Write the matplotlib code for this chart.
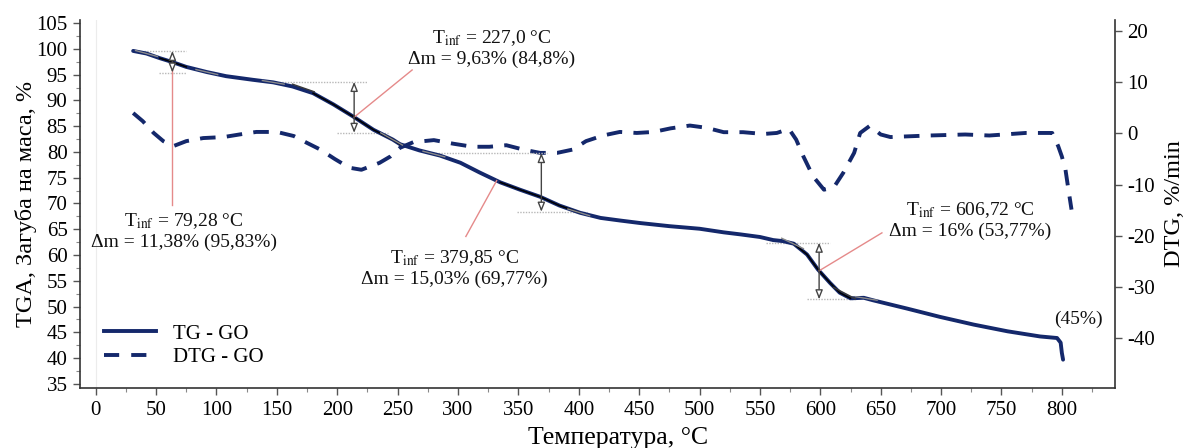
import numpy as np
import matplotlib
matplotlib.use("Agg")
import matplotlib.pyplot as plt
from matplotlib.ticker import MultipleLocator
from matplotlib.lines import Line2D

plt.rcParams['font.family'] = ['Liberation Serif', 'DejaVu Serif']
plt.rcParams['mathtext.fontset'] = 'stix'
plt.rcParams['axes.unicode_minus'] = False

# --- TG curve (mass, %) ---
tg_temp = [31, 42, 53, 64, 75, 92, 108, 130, 147, 163, 180, 197, 213, 230, 246,
           252, 268, 285, 302, 318, 335, 351, 368, 384, 401, 418, 434, 451, 475,
           500, 520, 534, 550, 561, 569, 578, 589, 598, 608, 616, 625, 636, 644,
           672, 699, 727, 755, 782, 796, 799, 800, 801]
tg_mass = [99.6, 99.1, 98.2, 97.4, 96.5, 95.5, 94.7, 94.0, 93.5, 92.7, 91.4, 89.2,
           86.9, 84.3, 82.4, 81.5, 80.3, 79.3, 77.9, 76.0, 74.1, 72.7, 71.3, 69.6,
           68.2, 67.2, 66.7, 66.2, 65.6, 65.1, 64.4, 64.0, 63.5, 62.9, 62.7, 62.2,
           60.1, 57.2, 54.6, 52.7, 51.6, 51.7, 51.2, 49.6, 48.0, 46.5, 45.2, 44.2,
           43.9, 43.0, 41.0, 39.7]

# --- DTG curve (%/min) ---
dtg_temp = [31, 39, 48, 56, 64, 75, 89, 106, 119, 133, 150, 164, 175, 186, 198,
            210, 220, 235, 244, 252, 263, 280, 296, 312, 326, 340, 354, 368, 382,
            395, 406, 420, 434, 448, 462, 476, 492, 506, 520, 536, 553, 564, 574,
            580, 586, 594, 603, 611, 619, 628, 633, 641, 650, 658, 690, 720, 740,
            770, 792, 797, 800, 803, 805, 808]
dtg_rate = [4.0, 2.4, 0.1, -1.5, -2.5, -1.5, -0.9, -0.7, -0.2, 0.3, 0.3, -0.5,
            -1.85, -3.15, -5.0, -6.7, -7.1, -5.75, -4.5, -2.8, -1.7, -1.3, -2.0,
            -2.6, -2.6, -2.3, -3.15, -3.8, -3.8, -3.15, -1.5, -0.4, 0.3, 0.1, 0.3,
            1.0, 1.55, 1.1, 0.25, 0.25, -0.1, 0.1, 0.9, -1.2, -4.5, -8.4, -11.0,
            -10.6, -7.7, -3.8, 0.1, 1.5, -0.2, -0.7, -0.4, -0.2, -0.4, 0.1, 0.1,
            -2.5, -4.5, -7.1, -10.3, -14.9]

# --- mass-loss steps ---
step_t_inf = [63.5, 214, 369, 599]
step_mass_top = [99.6, 93.6, 79.8, 62.4]
step_mass_bot = [95.4, 83.7, 68.4, 51.4]
step_top_span = [(40, 75), (152, 225), (274, 374), (555, 608)]
step_bot_span = [(52, 75), (200, 242), (349, 407), (589, 630)]
step_fit_span = [(45, 85), (168, 252), (330, 405), (578, 626)]
step_labels = [
    "T$_{\\mathrm{inf}}$ = 79,28 °C\nΔm = 11,38% (95,83%)",
    "T$_{\\mathrm{inf}}$ = 227,0 °C\nΔm = 9,63% (84,8%)",
    "T$_{\\mathrm{inf}}$ = 379,85 °C\nΔm = 15,03% (69,77%)",
    "T$_{\\mathrm{inf}}$ = 606,72 °C\nΔm = 16% (53,77%)",
]
label_xy = [(73, 64.7), (328, 100.2), (297, 57.4), (724, 66.7)]
leader_end = [(63.5, 69.8), (262, 95.9), (306.5, 63.6), (651, 64.3)]
leader_start_t = [63.5, 214, 332, 599]
tangent_t = [42, 92, 147, 245, 280, 400, 577, 638]
onset_tangent_t = [172, 620]
residue_text = "(45%)"
residue_xy = (814, 47.5)

navy = '#14286b'
fs_tick = 15
fs_note = 14
fs_label = 17.5

fig = plt.figure(figsize=(11.88, 4.48), dpi=100)
ax = fig.add_axes([80 / 1188, 60 / 448, 1035 / 1188, 368 / 448])
ax2 = ax.twinx()
ax.set_zorder(ax2.get_zorder() + 1)
ax.patch.set_visible(False)

t_tg = np.array(tg_temp, dtype=float)
m_tg = np.array(tg_mass, dtype=float)


def tg_at(t):
    return np.interp(t, t_tg, m_tg)


def tg_slope(t, h=6.0):
    return (tg_at(t + h) - tg_at(t - h)) / (2 * h)


# faint line at zero temperature
ax.axvline(0, color='#ececec', lw=0.8, zorder=0)

# main curves
ax.plot(t_tg, m_tg, color=navy, lw=2.8, solid_capstyle='round',
        solid_joinstyle='round', zorder=3)
ax2.plot(dtg_temp, dtg_rate, color=navy, lw=2.8, linestyle=(0, (4.0, 2.9)), zorder=3)

# fitted segments around the inflections
for a, b in step_fit_span:
    tt = t_tg[(t_tg >= a) & (t_tg <= b)]
    ax.plot(tt, tg_at(tt), color='black', lw=1.1, zorder=4)

# short tangent marks
for tc in tangent_t:
    s = tg_slope(tc)
    dt = 9
    ax.plot([tc - dt, tc + dt], [tg_at(tc) - s * dt, tg_at(tc) + s * dt],
            color='#8a8a8a', lw=1.0, zorder=5)
for tc in onset_tangent_t:
    s = tg_slope(tc, 12)
    dt = 9
    ax.plot([tc - dt, tc + dt], [tg_at(tc) - s * dt + 0.4, tg_at(tc) + s * dt + 0.4],
            color='#3a3a3a', lw=1.0, zorder=5)

# level lines, double arrows, leaders and labels for each step
for i in range(len(step_t_inf)):
    ax.plot(step_top_span[i], [step_mass_top[i]] * 2, color='#b8b8b8', lw=1.0,
            linestyle=(0, (1, 1)), zorder=2)
    ax.plot(step_bot_span[i], [step_mass_bot[i]] * 2, color='#b8b8b8', lw=1.0,
            linestyle=(0, (1, 1)), zorder=2)
    ax.annotate('', xy=(step_t_inf[i], step_mass_top[i]),
                xytext=(step_t_inf[i], step_mass_bot[i]),
                arrowprops=dict(arrowstyle='<|-|>,head_length=0.55,head_width=0.22',
                                fc='white', ec='#444444', lw=1.0,
                                shrinkA=0, shrinkB=0), zorder=6)
    x0 = leader_start_t[i]
    ax.plot([x0, leader_end[i][0]], [tg_at(x0), leader_end[i][1]],
            color='#e58a8a', lw=1.0, zorder=5)
    ax.text(label_xy[i][0], label_xy[i][1], step_labels[i], ha='center', va='center',
            multialignment='center', fontsize=fs_note, linespacing=1.2, color='#111111')

ax.text(residue_xy[0], residue_xy[1], residue_text, ha='center', va='center',
        fontsize=fs_note, color='#111111')

# axes
ax.set_xlim(-13, 844)
ax.set_ylim(34.2, 105.6)
ax2.set_ylim(-49.8, 22.2)

ax.xaxis.set_major_locator(MultipleLocator(50))
ax.xaxis.set_minor_locator(MultipleLocator(25))
ax.yaxis.set_major_locator(MultipleLocator(5))
ax.yaxis.set_minor_locator(MultipleLocator(2.5))
ax2.set_yticks([-40, -30, -20, -10, 0, 10, 20])

for a in (ax, ax2):
    a.spines['top'].set_visible(False)
    for s in a.spines.values():
        s.set_color('#333333')
        s.set_linewidth(1.2)
ax.spines['right'].set_visible(False)
ax2.spines['left'].set_visible(False)
ax2.spines['bottom'].set_visible(False)

ax.tick_params(axis='both', which='major', labelsize=fs_tick, length=5, width=1,
               color='#555555', direction='out', pad=4)
ax.tick_params(axis='both', which='minor', length=3, width=0.8, color='#888888')
ax2.tick_params(axis='y', which='major', labelsize=fs_tick, length=5, width=1,
                color='#555555', direction='out')

ax.set_xlabel('Температура, °C', fontsize=18.5)
ax.xaxis.set_label_coords(0.52, -0.105)
ax.set_ylabel('TGA, Загуба на маса, %', fontsize=fs_label)
ax.yaxis.set_label_coords(-0.042, 0.5)
ax2.set_ylabel('DTG, %/min', fontsize=fs_label)
ax2.yaxis.set_label_coords(1.047, 0.5)

# legend
handles = [Line2D([], [], color=navy, lw=2.8),
           Line2D([], [], color=navy, lw=2.8, linestyle=(0, (3.9, 3.1)))]
ax.legend(handles, ['TG - GO', 'DTG - GO'], loc='lower left',
          bbox_to_anchor=(0.005, 0.005), frameon=False, fontsize=15,
          handlelength=2.5, handletextpad=0.8, labelspacing=0.2)

fig.savefig('out.png', dpi=100)
